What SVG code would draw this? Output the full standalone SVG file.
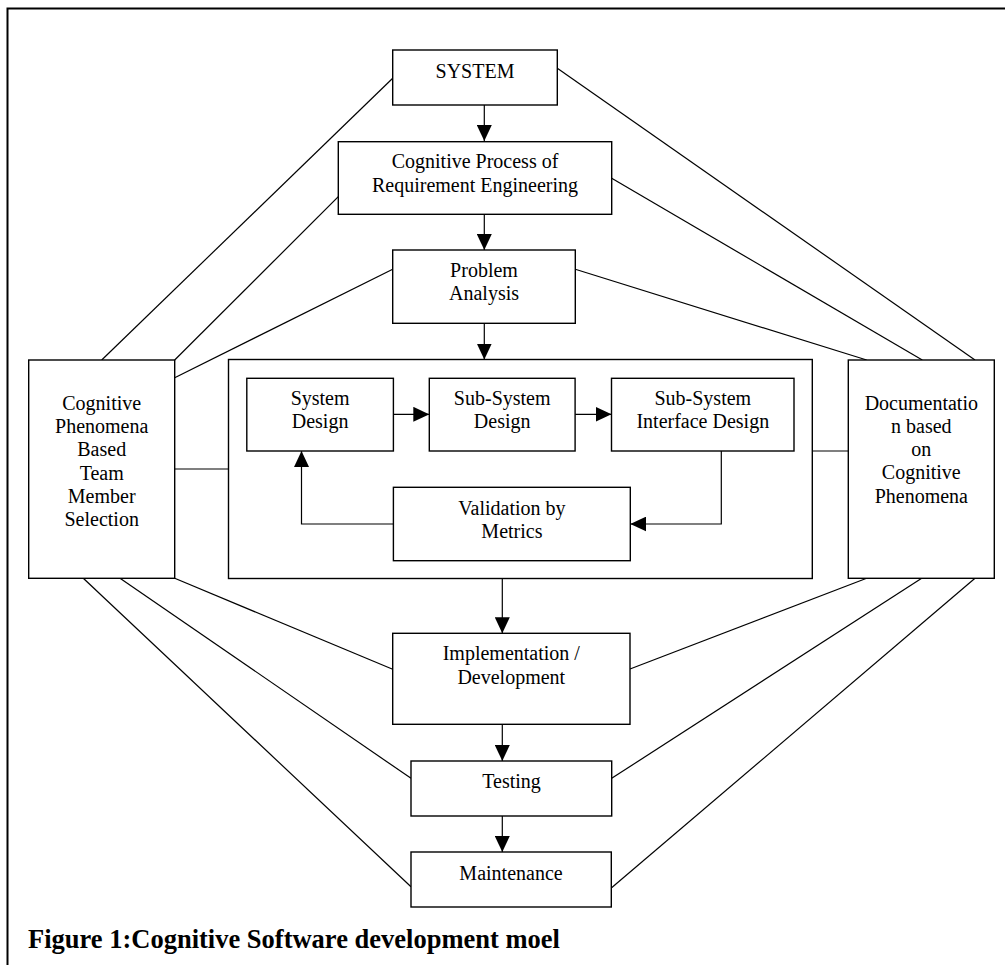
<svg xmlns="http://www.w3.org/2000/svg" width="1005" height="965" viewBox="0 0 1005 965">
<style>
.box{fill:#fff;stroke:#000;stroke-width:1.4}
.frame{fill:none;stroke:#000;stroke-width:1.4}
.ln{fill:none;stroke:#000;stroke-width:1.2}
.t{font-family:"Liberation Serif","Times New Roman",serif;font-size:20px;text-anchor:middle;fill:#000}
.cap{font-family:"Liberation Serif","Times New Roman",serif;font-size:26.5px;font-weight:bold;fill:#000}
</style>
<defs>
<marker id="ah" markerUnits="userSpaceOnUse" markerWidth="16" markerHeight="15" refX="16" refY="7.5" orient="auto">
<path d="M0,0 L16,7.5 L0,15 z" fill="#000"/>
</marker>
</defs>
<rect x="0" y="0" width="1005" height="965" fill="#fff"/>
<path d="M7.5,970 V8.5 H1010" fill="none" stroke="#000" stroke-width="2"/>
<g id="design-group">
<rect class="frame" x="228.5" y="359.5" width="583.8" height="219"/>
</g>
<g id="connectors">
<line class="ln" x1="392.7" y1="78.3" x2="101.7" y2="360"/>
<line class="ln" x1="338.3" y1="196.7" x2="174.7" y2="360"/>
<line class="ln" x1="392.7" y1="269.3" x2="174.7" y2="377.7"/>
<line class="ln" x1="557.3" y1="68.3" x2="975" y2="360"/>
<line class="ln" x1="611.7" y1="178.3" x2="922.3" y2="360"/>
<line class="ln" x1="575.3" y1="269.3" x2="866.7" y2="360"/>
<line class="ln" x1="174.7" y1="469" x2="228.5" y2="469"/>
<line class="ln" x1="812.3" y1="451" x2="848.3" y2="451"/>
<line class="ln" x1="83.3" y1="578.3" x2="411" y2="886.7"/>
<line class="ln" x1="120" y1="578.3" x2="411" y2="778.3"/>
<line class="ln" x1="174.7" y1="578.3" x2="392.7" y2="669.3"/>
<line class="ln" x1="866.7" y1="578.3" x2="630" y2="669"/>
<line class="ln" x1="921.7" y1="578.3" x2="611.7" y2="778.3"/>
<line class="ln" x1="975" y1="578.3" x2="611" y2="888.3"/>
<line class="ln" x1="484.3" y1="105" x2="484.3" y2="141" marker-end="url(#ah)"/>
<line class="ln" x1="484.3" y1="214.3" x2="484.3" y2="250" marker-end="url(#ah)"/>
<line class="ln" x1="484.3" y1="323.3" x2="484.3" y2="359.5" marker-end="url(#ah)"/>
<line class="ln" x1="502.3" y1="578.5" x2="502.3" y2="633.3" marker-end="url(#ah)"/>
<line class="ln" x1="502.3" y1="724.3" x2="502.3" y2="761" marker-end="url(#ah)"/>
<line class="ln" x1="502.3" y1="816" x2="502.3" y2="852" marker-end="url(#ah)"/>
<line class="ln" x1="393.4" y1="414.3" x2="429.3" y2="414.3" marker-end="url(#ah)"/>
<line class="ln" x1="575.1" y1="414.3" x2="611.5" y2="414.3" marker-end="url(#ah)"/>
<path class="ln" d="M721.3,451 V524 H630.3" marker-end="url(#ah)"/>
<path class="ln" d="M393.4,524 H301.5 V451" marker-end="url(#ah)"/>
</g>
<g id="system">
<rect class="box" x="392.7" y="50" width="164.6" height="55"/>
<text class="t" x="475" y="78.3">SYSTEM</text>
</g>
<g id="cognitive-process">
<rect class="box" x="338.3" y="141.7" width="273.4" height="72.6"/>
<text class="t" x="475" y="168">Cognitive Process of</text>
<text class="t" x="475" y="191.7">Requirement Engineering</text>
</g>
<g id="problem-analysis">
<rect class="box" x="392.7" y="250" width="182.6" height="73.3"/>
<text class="t" x="484" y="276.7">Problem</text>
<text class="t" x="484" y="300">Analysis</text>
</g>
<g id="system-design">
<rect class="box" x="246.8" y="378.3" width="146.6" height="72.7"/>
<text class="t" x="320.1" y="405">System</text>
<text class="t" x="320.1" y="428.3">Design</text>
</g>
<g id="subsystem-design">
<rect class="box" x="429.3" y="378.3" width="145.8" height="72.7"/>
<text class="t" x="502.2" y="405">Sub-System</text>
<text class="t" x="502.2" y="428.3">Design</text>
</g>
<g id="interface-design">
<rect class="box" x="611.5" y="378.3" width="182.5" height="72.7"/>
<text class="t" x="702.8" y="405">Sub-System</text>
<text class="t" x="702.8" y="428.3">Interface Design</text>
</g>
<g id="validation">
<rect class="box" x="393.4" y="487.3" width="236.9" height="73.4"/>
<text class="t" x="511.9" y="515">Validation by</text>
<text class="t" x="511.9" y="538.3">Metrics</text>
</g>
<g id="team-selection">
<rect class="box" x="28.7" y="360" width="146" height="218.3"/>
<text class="t" x="101.7" y="410">Cognitive</text>
<text class="t" x="101.7" y="433.2">Phenomena</text>
<text class="t" x="101.7" y="456.4">Based</text>
<text class="t" x="101.7" y="479.6">Team</text>
<text class="t" x="101.7" y="502.8">Member</text>
<text class="t" x="101.7" y="526">Selection</text>
</g>
<g id="documentation">
<rect class="box" x="848.3" y="360" width="146" height="218.3"/>
<text class="t" x="921.3" y="410">Documentatio</text>
<text class="t" x="921.3" y="433.3">n based</text>
<text class="t" x="921.3" y="456.3">on</text>
<text class="t" x="921.3" y="479.3">Cognitive</text>
<text class="t" x="921.3" y="502.7">Phenomena</text>
</g>
<g id="implementation">
<rect class="box" x="392.7" y="633.3" width="237.3" height="91"/>
<text class="t" x="511.3" y="660">Implementation /</text>
<text class="t" x="511.3" y="684">Development</text>
</g>
<g id="testing">
<rect class="box" x="411" y="761" width="200.7" height="55"/>
<text class="t" x="511.5" y="788.3">Testing</text>
</g>
<g id="maintenance">
<rect class="box" x="411" y="852" width="200.3" height="55"/>
<text class="t" x="511" y="879.5">Maintenance</text>
</g>
<text class="cap" x="28" y="948">Figure 1:Cognitive Software development moel</text>
</svg>
